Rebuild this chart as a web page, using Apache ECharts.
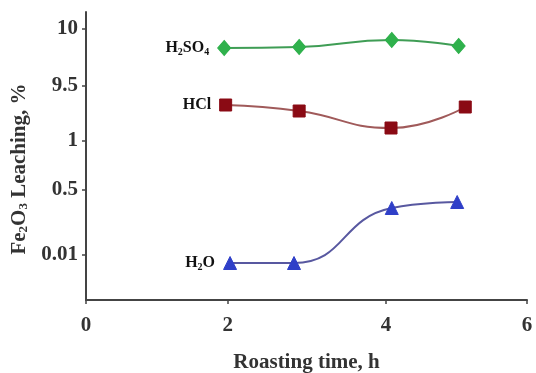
<!DOCTYPE html>
<html><head><meta charset="utf-8">
<script src="https://cdn.jsdelivr.net/npm/echarts@6/dist/echarts.min.js"></script>
<style>html,body{margin:0;padding:0;background:#fff}#c{width:536px;height:373px}</style>
</head><body><div id="c"></div>
<script>
// x positions (axis units, 0..6)
const xTickPos = [0, 1.93, 4.08, 6];
const xTickLabels = ['0', '2', '4', '6'];
// y axis is a plot scale (0..28.8); tick labels placed at read positions
const yTickPos = [4.5, 11.0, 15.9, 21.4, 27.1];
const yTickLabels = ['0.01', '0.5', '1', '9.5', '10'];

const h2so4X = [1.88, 2.90, 4.16, 5.07];
const h2so4Y = [25.2, 25.3, 26.0, 25.4];
const hclX = [1.90, 2.90, 4.15, 5.16];
const hclY = [19.5, 18.9, 17.2, 19.3];
const h2oX = [1.96, 2.83, 4.16, 5.05];
const h2oY = [3.7, 3.7, 9.2, 9.8];

const seriesNames = ['H{s|2}SO{s|4}', 'HCl', 'H{s|2}O'];

function pts(xs, ys) { return xs.map((x, i) => [x, ys[i]]); }
function lookup(pos, labels, v) {
  let best = 0;
  pos.forEach((p, i) => { if (Math.abs(p - v) < Math.abs(pos[best] - v)) best = i; });
  return labels[best];
}
const serif = 'Liberation Serif';
const rich = { s: { fontSize: 10, fontWeight: 'bold', fontFamily: serif, color: '#111', padding: [9, 0, 0, 0] } };

function mk(name, xs, ys, lineColor, markColor, symbol, size) {
  const data = pts(xs, ys).map((p, i) => i === 0 ? {
    value: p,
    label: { show: true, position: 'left', distance: 8, formatter: name,
      color: '#111', fontSize: 16, fontWeight: 'bold', fontFamily: serif, rich: rich }
  } : p);
  return {
    type: 'line', smooth: 0.5, data: data, symbol: symbol, symbolSize: size,
    lineStyle: { color: lineColor, width: 2 },
    itemStyle: { color: markColor, borderColor: markColor, borderWidth: 1 }
  };
}

const chart = echarts.init(document.getElementById('c'));
chart.setOption({
  animation: false,
  grid: { left: 86, right: 9, top: 12, bottom: 73, containLabel: false, outerBoundsMode: 'none' },
  xAxis: {
    type: 'value', min: 0, max: 6,
    name: 'Roasting time, h', nameLocation: 'middle', nameGap: 52,
    nameTextStyle: { fontSize: 21, fontWeight: 'bold', fontFamily: serif, color: '#333' },
    axisLine: { lineStyle: { color: '#444', width: 2 } },
    axisTick: { length: 4, customValues: xTickPos, lineStyle: { color: '#444', width: 1.5 } },
    axisLabel: { customValues: xTickPos, margin: 15, fontSize: 21, fontWeight: 'bold', fontFamily: serif, color: '#333',
      formatter: v => lookup(xTickPos, xTickLabels, v) },
    splitLine: { show: false }
  },
  yAxis: {
    type: 'value', min: 0, max: 28.8,
    name: 'Fe{s|2}O{s|3} Leaching, %', nameLocation: 'middle', nameGap: 54, nameRotate: 90,
    nameTextStyle: { fontSize: 21, fontWeight: 'bold', fontFamily: serif, color: '#333', padding: [0, 26, 0, 0],
      rich: { s: { fontSize: 13, fontWeight: 'bold', fontFamily: serif, color: '#333', padding: [9, 0, 0, 0] } } },
    axisLine: { show: true, lineStyle: { color: '#444', width: 2 } },
    axisTick: { show: true, length: 4, customValues: yTickPos, lineStyle: { color: '#444', width: 1.5 } },
    axisLabel: { customValues: yTickPos, margin: 8, fontSize: 21, fontWeight: 'bold', fontFamily: serif, color: '#333',
      formatter: v => lookup(yTickPos, yTickLabels, v) },
    splitLine: { show: false }
  },
  series: [
    mk(seriesNames[0], h2so4X, h2so4Y, '#3f9d55', '#2fb14c', 'diamond', [13, 15]),
    mk(seriesNames[1], hclX, hclY, '#a05a5a', '#8a0a14', 'rect', 12),
    mk(seriesNames[2], h2oX, h2oY, '#5858a0', '#2f3fc8', 'triangle', 13)
  ]
});
</script></body></html>
